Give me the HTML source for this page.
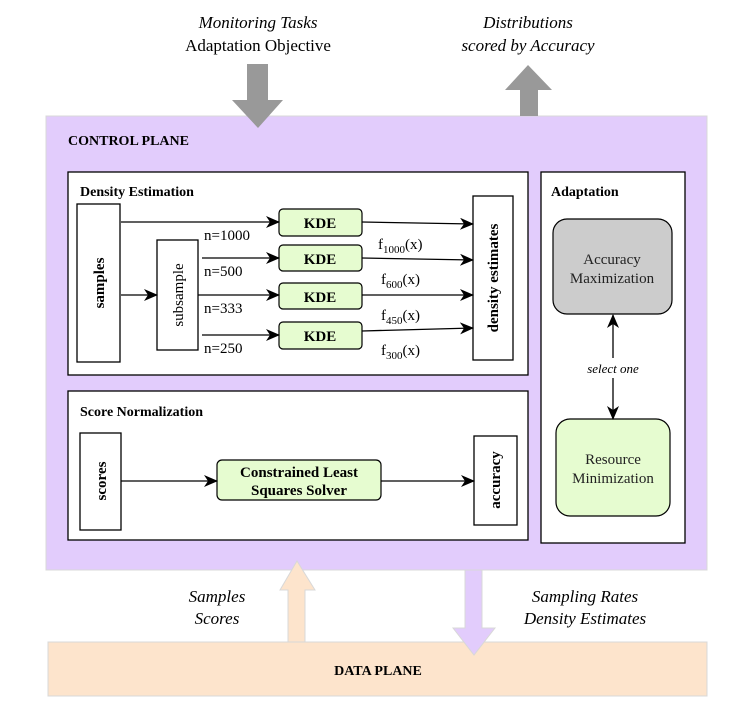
<!DOCTYPE html>
<html><head><meta charset="utf-8"><style>
html,body{margin:0;padding:0;background:#fff;}
svg text{font-family:"Liberation Serif",serif;}
</style></head><body>
<svg width="749" height="717" viewBox="0 0 749 717" xmlns="http://www.w3.org/2000/svg">
<defs>
<marker id="a" markerWidth="14" markerHeight="12" refX="13" refY="6" orient="auto" markerUnits="userSpaceOnUse"><path d="M0,0 L14,6 L0,12 L4,6 z" fill="#000"/></marker>
<marker id="as" markerWidth="14" markerHeight="12" refX="1" refY="6" orient="auto" markerUnits="userSpaceOnUse"><path d="M14,0 L0,6 L14,12 L10,6 z" fill="#000"/></marker>
</defs>
<text x="258" y="28" font-size="17" font-style="italic" text-anchor="middle">Monitoring Tasks</text>
<text x="258" y="51" font-size="17" text-anchor="middle">Adaptation Objective</text>
<text x="528" y="28" font-size="17" font-style="italic" text-anchor="middle">Distributions</text>
<text x="528" y="51" font-size="17" font-style="italic" text-anchor="middle">scored by Accuracy</text>
<rect x="46" y="116" width="661" height="454" fill="#e2ccfc" stroke="#d8d8d8" stroke-width="1"/>
<path d="M247,64 H268 V100 H283 L258,128 L232,100 H247 Z" fill="#999"/>
<path d="M520,116 V90 H505 L528,65 L552,90 H538 V116 Z" fill="#999"/>
<text x="68" y="145" font-size="14" font-weight="bold">CONTROL PLANE</text>
<g stroke-width="1.3">
<rect x="68" y="172" width="460" height="203" fill="#fff" stroke="#000"/>
<rect x="77" y="204" width="43" height="158" fill="#fff" stroke="#000"/>
<rect x="157" y="240" width="41" height="110" fill="#fff" stroke="#000"/>
<rect x="473" y="196" width="40" height="164" fill="#fff" stroke="#000"/>
</g>
<text x="80" y="196" font-size="14" font-weight="bold">Density Estimation</text>
<text transform="translate(104,283) rotate(-90)" font-size="15" font-weight="bold" text-anchor="middle">samples</text>
<text transform="translate(183,295) rotate(-90)" font-size="15" text-anchor="middle">subsample</text>
<text transform="translate(498,278) rotate(-90)" font-size="15" font-weight="bold" text-anchor="middle">density estimates</text>
<g fill="#e6fcd0" stroke="#000" stroke-width="1.2">
<rect x="279" y="209" width="83" height="27" rx="4"/>
<rect x="279" y="245" width="83" height="26" rx="4"/>
<rect x="279" y="283" width="83" height="26" rx="4"/>
<rect x="279" y="322" width="83" height="27" rx="4"/>
</g>
<g font-size="15" font-weight="bold" text-anchor="middle">
<text x="320" y="228">KDE</text><text x="320" y="264">KDE</text>
<text x="320" y="302">KDE</text><text x="320" y="341">KDE</text>
</g>
<g stroke="#000" stroke-width="1.3" fill="none" marker-end="url(#a)">
<line x1="121" y1="222" x2="279" y2="222"/>
<line x1="121" y1="295" x2="157" y2="295"/>
<line x1="202" y1="258" x2="279" y2="258"/>
<line x1="198" y1="295" x2="279" y2="295"/>
<line x1="202" y1="335" x2="279" y2="335"/>
<line x1="362" y1="222" x2="473" y2="224"/>
<line x1="362" y1="258" x2="473" y2="260"/>
<line x1="362" y1="295" x2="473" y2="295"/>
<line x1="362" y1="331" x2="473" y2="328"/>
</g>
<g font-size="15">
<text x="204" y="240">n=1000</text><text x="204" y="276">n=500</text>
<text x="204" y="313">n=333</text><text x="204" y="353">n=250</text>
<text x="378" y="249">f<tspan font-size="11" dy="4">1000</tspan><tspan dy="-4">(x)</tspan></text>
<text x="381" y="284">f<tspan font-size="11" dy="4">600</tspan><tspan dy="-4">(x)</tspan></text>
<text x="381" y="320">f<tspan font-size="11" dy="4">450</tspan><tspan dy="-4">(x)</tspan></text>
<text x="381" y="355">f<tspan font-size="11" dy="4">300</tspan><tspan dy="-4">(x)</tspan></text>
</g>
<g stroke-width="1.3">
<rect x="68" y="391" width="460" height="149" fill="#fff" stroke="#000"/>
<rect x="80" y="433" width="41" height="97" fill="#fff" stroke="#000"/>
<rect x="474" y="436" width="43" height="89" fill="#fff" stroke="#000"/>
</g>
<text x="80" y="416" font-size="14" font-weight="bold">Score Normalization</text>
<text transform="translate(106,481) rotate(-90)" font-size="15" font-weight="bold" text-anchor="middle">scores</text>
<text transform="translate(500,480) rotate(-90)" font-size="15" font-weight="bold" text-anchor="middle">accuracy</text>
<rect x="217" y="460" width="164" height="40" rx="5" fill="#e6fcd0" stroke="#000" stroke-width="1.2"/>
<text x="299" y="477" font-size="15" font-weight="bold" text-anchor="middle">Constrained Least</text>
<text x="299" y="495" font-size="15" font-weight="bold" text-anchor="middle">Squares Solver</text>
<g stroke="#000" stroke-width="1.3" marker-end="url(#a)">
<line x1="121" y1="481" x2="217" y2="481"/>
<line x1="381" y1="481" x2="474" y2="481"/>
</g>
<rect x="541" y="172" width="144" height="371" fill="#fff" stroke="#000" stroke-width="1.3"/>
<text x="551" y="196" font-size="14" font-weight="bold">Adaptation</text>
<rect x="553" y="219" width="119" height="95" rx="14" fill="#cccccc" stroke="#000" stroke-width="1.2"/>
<text x="612" y="264" font-size="15" text-anchor="middle" fill="#222">Accuracy</text>
<text x="612" y="283" font-size="15" text-anchor="middle" fill="#222">Maximization</text>
<rect x="556" y="419" width="114" height="97" rx="14" fill="#e6fcd0" stroke="#000" stroke-width="1.2"/>
<text x="613" y="464" font-size="15" text-anchor="middle" fill="#222">Resource</text>
<text x="613" y="483" font-size="15" text-anchor="middle" fill="#222">Minimization</text>
<line x1="613" y1="315" x2="613" y2="358" stroke="#000" stroke-width="1.3" marker-start="url(#as)"/>
<line x1="613" y1="378" x2="613" y2="419" stroke="#000" stroke-width="1.3" marker-end="url(#a)"/>
<text x="613" y="373" font-size="13" font-style="italic" text-anchor="middle">select one</text>
<rect x="48" y="642" width="659" height="54" fill="#fde4cc" stroke="#d8d8d8"/>
<text x="378" y="675" font-size="14" font-weight="bold" text-anchor="middle">DATA PLANE</text>
<path d="M288,642 V590 H280 L297,561 L315,590 H305 V642 Z" fill="#fde4cc" stroke="#d8d8d8"/>
<path d="M465,570 V628 H453 L474,655 L495,628 H482 V570 Z" fill="#e2ccfc" stroke="#d8d8d8"/>
<text x="217" y="602" font-size="17" font-style="italic" text-anchor="middle">Samples</text>
<text x="217" y="624" font-size="17" font-style="italic" text-anchor="middle">Scores</text>
<text x="585" y="602" font-size="17" font-style="italic" text-anchor="middle">Sampling Rates</text>
<text x="585" y="624" font-size="17" font-style="italic" text-anchor="middle">Density Estimates</text>
</svg>
</body></html>
